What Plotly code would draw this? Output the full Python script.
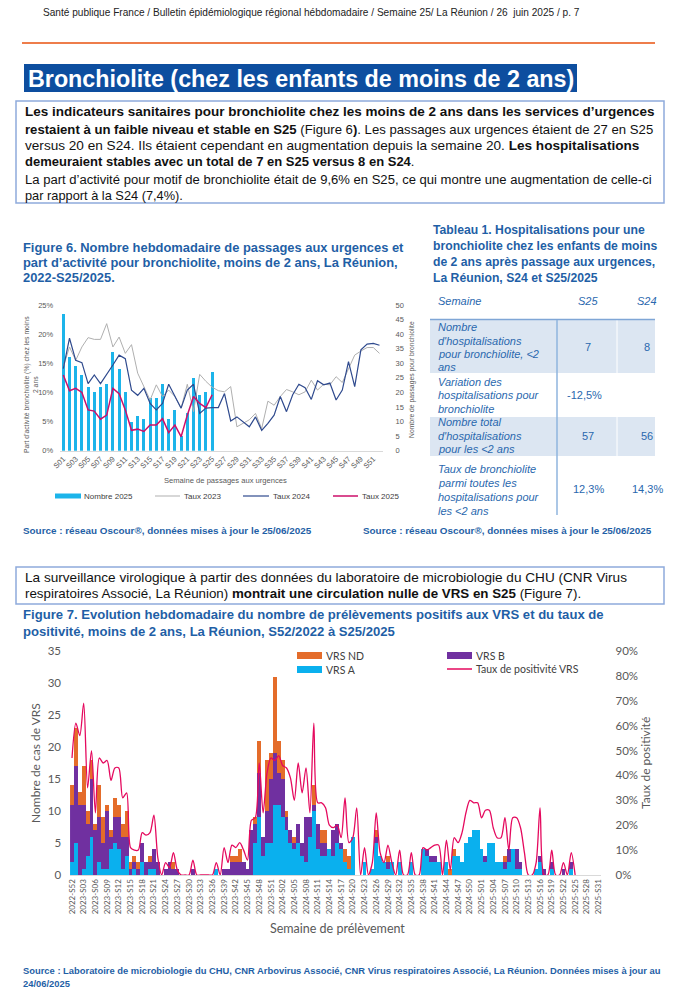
import plotly.graph_objects as go

W, H = 685, 1000
NARROW = "Liberation Sans Narrow, Arial Narrow, Liberation Sans, sans-serif"
ARIAL = "Liberation Sans, Arial, sans-serif"
CAL = "Lato, Carlito, Calibri, sans-serif"
BLUE_T = "#1F5FA6"
GREY_T = "#595959"

# ---------------- Figure 6 data ----------------
weeks6 = [f"S{w:02d}" for w in range(1, 53)]
nombre_2025 = [47, 32, 29, 26, 22, 20, 22, 23, 34, 28, 20, 10, 12, 11, 18, 18, 23, 11, 14, 5,
               13, 25, 19, 20, 27]
taux_2023 = [14.4, 17.8, 15.5, 17.8, 19.4, 19.1, 19.1, 21.8, 17.8, 19.5, 16.7, 18.2, 13.3, 11.0,
             8.7, 11.3, 9.3, 10.4, 9.3, 7.3, 11.4, 6.7, 13.1, 11.9, 10.9, 10.3, 10.1, 11.0, 4.1,
             4.7, 5.3, 6.4, 3.8, 8.5, 7.8, 9.3, 10.5, 10.1, 9.6, 10.1, 12.1, 10.4, 11.4, 11.3,
             12.7, 11.7, 14.1, 16.4, 17.1, 17.7, 17.7, 16.7]
taux_2024 = [14.1, 19.3, 15.5, 15.1, 11.5, 13.0, 11.5, 13.0, 14.7, 16.4, 15.8, 10.4, 9.5, 10.7,
             8.1, 7.0, 8.1, 11.4, 9.3, 7.3, 10.4, 11.4, 6.4, 7.3, 7.4, 7.4, 9.8, 5.1, 5.8, 5.0,
             4.1, 5.8, 3.5, 4.7, 6.1, 9.3, 6.7, 9.6, 11.4, 10.8, 8.8, 12.0, 11.3, 11.6, 8.7,
             10.4, 15.3, 11.0, 17.3, 18.3, 18.4, 18.1]
taux_2025 = [13.0, 10.3, 10.7, 10.0, 7.0, 6.8, 5.4, 6.1, 10.7, 9.8, 7.0, 3.5, 3.7, 3.3, 4.4, 4.4,
             5.5, 3.1, 4.4, 2.4, 6.1, 9.3, 8.1, 7.4, 9.6]

# ---------------- Tableau 1 data ----------------
table_header = ["Semaine", "S25", "S24"]
table_labels = [
    ["Nombre", "d'hospitalisations", "pour bronchiolite, &lt;2", "ans"],
    ["Variation des", "hospitalisations pour", "bronchiolite"],
    ["Nombre total", "d'hospitalisations", "pour les &lt;2 ans"],
    ["Taux de bronchiolite", "parmi toutes les", "hospitalisations pour", "les &lt;2 ans"],
]
table_s25 = ["7", "-12,5%", "57", "12,3%"]
table_s24 = ["8", "", "56", "14,3%"]

# ---------------- Figure 7 data ----------------
weeks7 = ["2022-S52"] + [f"2023-S{w:02d}" for w in range(1, 53)] + \
         [f"2024-S{w:02d}" for w in range(1, 53)] + [f"2025-S{w:02d}" for w in range(1, 32)]
vrs_a = [2, 5, 0, 1, 3, 6, 0, 2, 1, 1,
         4, 5, 4, 1, 3, 0, 1, 0, 2, 0,
         1, 1, 0, 0, 0, 0, 0, 0, 0, 0,
         0, 0, 0, 0, 0, 0, 0, 1, 0, 0,
         0, 0, 0, 0, 0, 0, 0, 5, 9, 3,
         5, 5, 11, 11, 9, 7, 5, 4, 5, 3,
         2, 6, 10, 4, 3, 3, 4, 3, 5, 4,
         2, 1, 6, 0, 0, 2, 0, 1, 5, 3,
         2, 1, 2, 0, 2, 0, 0, 2, 0, 0,
         4, 3, 2, 2, 2, 0, 2, 0, 3, 3,
         2, 5, 6, 7, 7, 4, 2, 5, 5, 2,
         2, 1, 2, 4, 1, 1, 0, 0, 0, 1,
         2, 0, 0, 1, 0, 0, 0, 0, 1, 0]
vrs_b = [9, 12, 11, 10, 5, 9, 7, 7, 4, 9,
         2, 4, 5, 5, 3, 1, 1, 1, 3, 2,
         1, 3, 2, 0, 1, 2, 1, 1, 0, 0,
         0, 1, 0, 0, 0, 0, 0, 0, 0, 1,
         1, 2, 2, 2, 2, 1, 7, 3, 7, 3,
         5, 10, 8, 5, 6, 2, 2, 1, 3, 2,
         7, 3, 1, 4, 2, 2, 0, 4, 3, 1,
         0, 0, 0, 0, 0, 0, 0, 0, 1, 0,
         0, 1, 0, 0, 0, 0, 0, 0, 0, 0,
         0, 1, 1, 1, 0, 0, 0, 0, 0, 0,
         0, 0, 0, 0, 0, 0, 1, 0, 0, 0,
         0, 1, 2, 0, 3, 1, 0, 0, 0, 0,
         1, 1, 0, 1, 0, 0, 1, 0, 1, 0]
vrs_nd = [3, 6, 2, 6, 2, 3, 1, 5, 4, 1,
          1, 3, 2, 2, 4, 1, 1, 1, 0, 0,
          1, 0, 0, 0, 0, 0, 1, 0, 0, 0,
          0, 0, 0, 0, 0, 0, 0, 0, 0, 0,
          0, 1, 1, 2, 0, 0, 0, 1, 5, 0,
          8, 4, 12, 5, 3, 1, 0, 1, 0, 0,
          0, 0, 3, 0, 2, 2, 0, 0, 0, 0,
          2, 2, 0, 0, 0, 0, 0, 0, 1, 0,
          0, 1, 0, 0, 0, 0, 0, 0, 0, 0,
          0, 0, 0, 0, 0, 0, 0, 1, 1, 0,
          0, 0, 0, 0, 0, 0, 0, 0, 0, 0,
          0, 1, 0, 0, 0, 0, 0, 0, 0, 0,
          0, 0, 0, 0, 0, 0, 0, 0, 0, 0]
taux_pos = [47, 61, 56, 69, 35, 50, 25, 47, 45, 46,
            38, 43, 43, 31, 33, 11, 10, 10, 17, 16,
            17, 24, 7, 0, 5, 3, 9, 2, 0, 0,
            0, 6, 0, 0, 0, 0, 0, 5, 0, 11,
            5, 12, 11, 13, 10, 6, 22, 23, 45, 25,
            41, 47, 46, 48, 44, 43, 39, 30, 45, 33,
            43, 25, 61, 29, 29, 27, 20, 19, 20, 15,
            31, 13, 15, 27, 0, 11, 0, 5, 25, 9,
            5, 12, 5, 0, 10, 0, 0, 9, 0, 0,
            11, 10, 11, 12, 12, 0, 14, 2, 15, 13,
            17, 25, 30, 29, 29, 23, 26, 26, 19, 15,
            15, 23, 10, 23, 23, 19, 9, 0, 0, 5,
            27, 0, 0, 10, 0, 0, 5, 0, 9, 0]


def px(x):
    return x / W


def py(y):
    return 1 - y / H


annotations = []
shapes = []


def txt(x, y, s, size, color="#111111", family=NARROW, xanchor="left", yanchor="middle", angle=0):
    annotations.append(dict(x=px(x), y=py(y), xref="paper", yref="paper", text=s, showarrow=False,
                            font=dict(size=size, color=color, family=family), xanchor=xanchor,
                            yanchor=yanchor, textangle=angle, borderpad=0))


def rect(x0, y0, x1, y1, fill=None, line=None, lw=0):
    shapes.append(dict(type="rect", xref="paper", yref="paper", x0=px(x0), x1=px(x1), y0=py(y1), y1=py(y0),
                       fillcolor=fill if fill else "rgba(0,0,0,0)",
                       line=dict(color=line if line else "rgba(0,0,0,0)", width=lw), layer="above"))


def hline(x0, x1, y, color, lw):
    shapes.append(dict(type="line", xref="paper", yref="paper", x0=px(x0), x1=px(x1), y0=py(y), y1=py(y),
                       line=dict(color=color, width=lw)))


def vline(x, y0, y1, color, lw):
    shapes.append(dict(type="line", xref="paper", yref="paper", x0=px(x), x1=px(x), y0=py(y0), y1=py(y1),
                       line=dict(color=color, width=lw)))


fig = go.Figure()

# ---------- Figure 6 traces ----------
C_BAR6 = "#1CB4EA"
C_23 = "#AFAFAF"
C_24 = "#2F4A8E"
C_25 = "#CC0F6A"
fig.add_trace(go.Bar(x=weeks6[:len(nombre_2025)], y=nombre_2025, xaxis="x", yaxis="y",
                     marker=dict(color=C_BAR6, line=dict(width=0)), width=0.5, showlegend=False,
                     name="Nombre 2025"))
fig.add_trace(go.Scatter(x=weeks6, y=taux_2023, xaxis="x", yaxis="y2", mode="lines",
                         line=dict(color=C_23, width=1), showlegend=False, name="Taux 2023"))
fig.add_trace(go.Scatter(x=weeks6, y=taux_2024, xaxis="x", yaxis="y2", mode="lines",
                         line=dict(color=C_24, width=1.2), showlegend=False, name="Taux 2024"))
fig.add_trace(go.Scatter(x=weeks6[:len(taux_2025)], y=taux_2025, xaxis="x", yaxis="y2", mode="lines",
                         line=dict(color=C_25, width=1.5), showlegend=False, name="Taux 2025"))

# ---------- Figure 7 traces ----------
C_A = "#0AB0EE"
C_B = "#7030A0"
C_ND = "#E46C2A"
C_POS = "#E5095E"
n7 = len(vrs_a)
fig.add_trace(go.Bar(x=weeks7[:n7], y=vrs_a, xaxis="x2", yaxis="y3", width=1.0,
                     marker=dict(color=C_A, line=dict(width=0)), showlegend=False, name="VRS A"))
fig.add_trace(go.Bar(x=weeks7[:n7], y=vrs_b, xaxis="x2", yaxis="y3", width=1.0,
                     marker=dict(color=C_B, line=dict(width=0)), showlegend=False, name="VRS B"))
fig.add_trace(go.Bar(x=weeks7[:n7], y=vrs_nd, xaxis="x2", yaxis="y3", width=1.0,
                     marker=dict(color=C_ND, line=dict(width=0)), showlegend=False, name="VRS ND"))
fig.add_trace(go.Scatter(x=weeks7[:len(taux_pos)], y=taux_pos, xaxis="x2", yaxis="y4", mode="lines",
                         line=dict(color=C_POS, width=1.3, shape="spline", smoothing=0.8),
                         showlegend=False, name="Taux de positivité VRS"))

# ---------- Header & title ----------
txt(42, 12, "Santé publique France / Bulletin épidémiologique régional hébdomadaire / Semaine 25/ La Réunion / 26  juin 2025 / p. 7",
    10.1, "#222222")
hline(22, 655, 43, "#EE7D4B", 2)
rect(24, 64, 577, 92, fill="#0D4E9F")
txt(27, 78.5, "<b>Bronchiolite (chez les enfants de moins de 2 ans)</b>", 23.3, "#FFFFFF")

# ---------- Text box 1 ----------
rect(16, 101, 664, 203, line="#8EAADB", lw=1.5)
body = [
    (112, 13.5, "<b>Les indicateurs sanitaires pour bronchiolite chez les moins de 2 ans dans les services d’urgences</b>"),
    (129, 13.15, "<b>restaient à un faible niveau et stable en S25</b> (Figure 6<b>)</b>. Les passages aux urgences étaient de 27 en S25"),
    (145, 13.6, "versus 20 en S24. Ils étaient cependant en augmentation depuis la semaine 20. <b>Les hospitalisations</b>"),
    (161, 13.0, "<b>demeuraient stables avec un total de 7 en S25 versus 8 en S24</b>."),
    (179, 13.05, "La part d’activité pour motif de bronchiolite était de 9,6% en S25, ce qui montre une augmentation de celle-ci"),
    (195, 12.8, "par rapport à la S24 (7,4%)."),
]
for y, sz, s in body:
    txt(24, y, s, sz)

# ---------- Titles ----------
for y, s in [(247, "Figure 6. Nombre hebdomadaire de passages aux urgences et"),
             (262, "part d’activité pour bronchiolite, moins de 2 ans, La Réunion,"),
             (277, "2022-S25/2025.")]:
    txt(22, y, "<b>" + s + "</b>", 12.9, BLUE_T)
for y, s in [(230, "Tableau 1. Hospitalisations pour une"),
             (246, "bronchiolite chez les enfants de moins"),
             (262, "de 2 ans après passage aux urgences,"),
             (278, "La Réunion, S24 et S25/2025")]:
    txt(432, y, "<b>" + s + "</b>", 12.2, BLUE_T)

# ---------- Figure 6 annotations ----------
txt(31, 385, "Part d'activité bronchiolite (%) chez les moins<br>2 ans", 6.8, GREY_T, ARIAL,
    xanchor="center", angle=-90)
txt(412, 380, "Nombre de passages pour bronchiolite", 6.8, GREY_T, ARIAL, xanchor="center", angle=-90)
txt(225, 480, "Semaine de passages aux urgences", 7.6, GREY_T, ARIAL, xanchor="center")
# legend figure 6
rect(55, 493.5, 81, 498.5, fill=C_BAR6)
txt(83, 496, "Nombre 2025", 8, "#404040", ARIAL)
hline(155, 180, 496, C_23, 1)
txt(183, 496, "Taux 2023", 8, "#404040", ARIAL)
hline(243, 269, 496, C_24, 1.2)
txt(272, 496, "Taux 2024", 8, "#404040", ARIAL)
hline(333, 358, 496, C_25, 1.5)
txt(361, 496, "Taux 2025", 8, "#404040", ARIAL)

# sources
txt(22, 530, "<b>Source : réseau Oscour®, données mises à jour le 25/06/2025</b>", 9.9, BLUE_T, ARIAL)
txt(362, 530, "<b>Source : réseau Oscour®, données mises à jour le 25/06/2025</b>", 9.9, BLUE_T, ARIAL)

# ---------- Table ----------
C_TAB = "#2A68AE"
rect(430, 320, 655, 373, fill="#DCE6F2")
rect(430, 417, 655, 456, fill="#DCE6F2")
vline(617, 320, 373, "#FFFFFF", 1)
vline(617, 417, 456, "#FFFFFF", 1)
hline(430, 655, 319.5, "#7FA6D6", 1.5)
vline(557, 320, 515, "#8FB4DE", 1.5)
txt(437, 301, "<i>" + table_header[0] + "</i>", 11, C_TAB, ARIAL)
txt(588, 301, "<i>" + table_header[1] + "</i>", 11, C_TAB, ARIAL, xanchor="center")
txt(647, 301, "<i>" + table_header[2] + "</i>", 11, C_TAB, ARIAL, xanchor="center")
row_line_y = [[327, 341, 354, 367], [382, 395, 409], [422, 436, 449], [469, 483, 497, 511]]
row_val_y = [347, 395, 436, 489]
for r in range(len(table_labels)):
    for s, y in zip(table_labels[r], row_line_y[r]):
        txt(437, y, "<i>" + s + "</i>", 11, C_TAB, ARIAL)
    txt(584 if r == 1 else 588, row_val_y[r], table_s25[r], 11, C_TAB, ARIAL, xanchor="center")
    if table_s24[r]:
        txt(647, row_val_y[r], table_s24[r], 11, C_TAB, ARIAL, xanchor="center")

# ---------- Text box 2 ----------
rect(16, 567, 664, 604, line="#8EAADB", lw=1.5)
txt(24, 577, "La surveillance virologique à partir des données du laboratoire de microbiologie du CHU (CNR Virus", 13.6)
txt(24, 593, "respiratoires Associé, La Réunion) <b>montrait une circulation nulle de VRS en S25</b> (Figure 7).", 13.35)
txt(22, 614, "<b>Figure 7. Evolution hebdomadaire du nombre de prélèvements positifs aux VRS et du taux de</b>", 13.1, BLUE_T)
txt(22, 631, "<b>positivité, moins de 2 ans, La Réunion, S52/2022 à S25/2025</b>", 13.1, BLUE_T)

# ---------- Figure 7 annotations ----------
txt(35, 763, "Nombre de cas de VRS", 12, GREY_T, CAL, xanchor="center", angle=-90)
txt(645, 763, "Taux de positivité", 12, GREY_T, CAL, xanchor="center", angle=-90)
txt(337, 928, "Semaine de prélèvement", 12.5, GREY_T, CAL, xanchor="center")
rect(297, 652, 322, 659, fill=C_ND)
txt(325, 655.5, "VRS ND", 10.5, "#404040", CAL)
rect(297, 666, 322, 673, fill=C_A)
txt(325, 669.5, "VRS A", 10.5, "#404040", CAL)
rect(447, 652, 472, 659, fill=C_B)
txt(475, 655.5, "VRS B", 10.5, "#404040", CAL)
hline(447, 472, 669, C_POS, 1.5)
txt(475, 669, "Taux de positivité VRS", 10.5, "#404040", CAL)

# footer
txt(22, 970, "<b>Source : Laboratoire de microbiologie du CHU, CNR Arbovirus Associé, CNR Virus respiratoires Associé, La Réunion. Données mises à jour au</b>",
    9.4, BLUE_T, ARIAL)
txt(22, 983, "<b>24/06/2025</b>", 9.4, BLUE_T, ARIAL)

fig.update_layout(
    width=W, height=H, margin=dict(l=0, r=0, t=0, b=0),
    paper_bgcolor="white", plot_bgcolor="rgba(0,0,0,0)",
    barmode="stack", showlegend=False,
    annotations=annotations, shapes=shapes,
    xaxis=dict(domain=[px(60.2), px(382.6)], type="category", categoryorder="array",
               categoryarray=weeks6, range=[-0.5, 51.5], tickmode="array", tickvals=weeks6[::2],
               tickangle=-45, tickfont=dict(size=7.5, color=GREY_T, family=ARIAL),
               showline=True, linecolor="#D9D9D9", linewidth=1, ticks="", showgrid=False,
               zeroline=False, anchor="y", automargin=False),
    yaxis=dict(domain=[py(450.7), py(305)], range=[0, 50], dtick=5, side="right", anchor="x",
               tickfont=dict(size=7.5, color=GREY_T, family=ARIAL), showgrid=False, zeroline=False,
               showline=False, ticks="", ticklabelstandoff=12, automargin=False),
    yaxis2=dict(overlaying="y", side="left", range=[0, 25], dtick=5, ticksuffix="%", anchor="x",
                tickfont=dict(size=7.5, color=GREY_T, family=ARIAL), showgrid=False, zeroline=False,
                showline=False, ticks="", ticklabelstandoff=6, automargin=False),
    xaxis2=dict(domain=[px(70.05), px(600.5)], type="category", categoryorder="array",
                categoryarray=weeks7, range=[-0.5, len(weeks7) - 0.5], tickmode="array",
                tickvals=weeks7[::3], tickangle=-90,
                tickfont=dict(size=8, color=GREY_T, family=CAL),
                showline=True, linecolor="#D9D9D9", linewidth=1, ticks="", showgrid=False,
                zeroline=False, anchor="y3", automargin=False),
    yaxis3=dict(domain=[py(875), py(651)], range=[0, 35], dtick=5, anchor="x2",
                tickfont=dict(size=11.5, color=GREY_T, family=CAL), showgrid=False, zeroline=False,
                showline=False, ticks="", ticklabelstandoff=8, automargin=False),
    yaxis4=dict(overlaying="y3", side="right", range=[0, 90], dtick=10, ticksuffix="%", anchor="x2",
                tickfont=dict(size=11.5, color=GREY_T, family=CAL), showgrid=False, zeroline=False,
                showline=False, ticks="", ticklabelstandoff=14, automargin=False),
    font=dict(family=ARIAL),
)

fig.write_html(
    "out.html",
    config={"displayModeBar": False},
    post_script="document.documentElement.style.margin='0';document.body.style.margin='0';"
                "document.body.style.padding='0';document.documentElement.style.overflow='hidden';"
                "document.body.style.overflow='hidden';",
)
